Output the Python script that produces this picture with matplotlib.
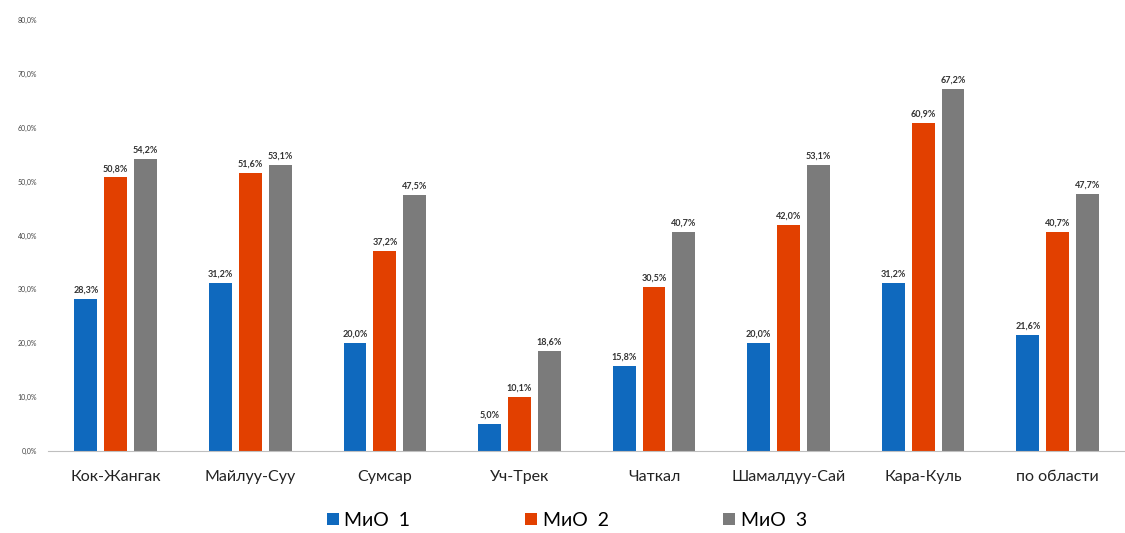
import numpy as np
import matplotlib.pyplot as plt

plt.rcParams['font.family'] = ['Lato', 'DejaVu Sans']

# Data
categories = ['Кок-Жангак', 'Майлуу-Суу', 'Сумсар', 'Уч-Трек', 'Чаткал',
              'Шамалдуу-Сай', 'Кара-Куль', 'по области']
mio1 = [28.3, 31.2, 20.0, 5.0, 15.8, 20.0, 31.2, 21.6]
mio2 = [50.8, 51.6, 37.2, 10.1, 30.5, 42.0, 60.9, 40.7]
mio3 = [54.2, 53.1, 47.5, 18.6, 40.7, 53.1, 67.2, 47.7]
series_names = ['МиО  1', 'МиО  2', 'МиО  3']
colors = ['#0F69BE', '#E24000', '#7B7B7B']
yticks = np.arange(0, 81, 10)

fig = plt.figure(figsize=(11.25, 5.33), dpi=100)
ax = fig.add_axes([0.043, 0.154, 0.957, 0.808])

x = np.arange(len(categories))
width = 0.17
step = 0.222

for k, (vals, name, col) in enumerate(zip([mio1, mio2, mio3], series_names, colors)):
    pos = x + (k - 1) * step
    ax.bar(pos, vals, width, color=col, label=name)
    for px, v in zip(pos, vals):
        ax.text(px, v + 0.8, f'{v:.1f}%'.replace('.', ','), ha='center', va='bottom',
                fontsize=6.5, color='#333333', fontweight='bold')

ax.set_xlim(-0.5, len(categories) - 0.5)
ax.set_ylim(0, 80)
ax.set_yticks(yticks)
ax.set_yticklabels([f'{t:.1f}%'.replace('.', ',') for t in yticks], fontsize=5, color='#444444')
ax.set_xticks(x)
ax.set_xticklabels(categories, fontsize=11.5, color='#222222')
ax.tick_params(axis='both', length=0)
ax.tick_params(axis='x', pad=14)
ax.tick_params(axis='y', pad=8)

for s in ['top', 'right', 'left']:
    ax.spines[s].set_visible(False)
ax.spines['bottom'].set_color('#BFBFBF')

fig.legend(loc='lower center', bbox_to_anchor=(0.504, -0.025), ncol=3, frameon=False,
           fontsize=14, columnspacing=5.9, handlelength=0.6, handleheight=0.6,
           handletextpad=0.3)

fig.savefig('out.png', dpi=100)
